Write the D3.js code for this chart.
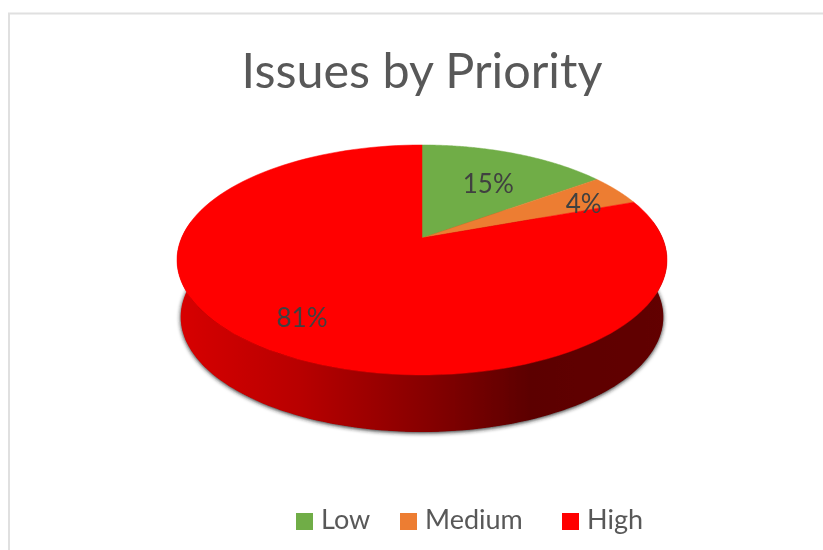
<!DOCTYPE html>
<html lang="en">
<head>
<meta charset="UTF-8">
<title>Issues by Priority</title>
<script src="https://cdnjs.cloudflare.com/ajax/libs/d3/7.8.5/d3.min.js"></script>
<style>
  html, body { margin: 0; padding: 0; background: #fff; }
  svg { display: block; }
  text { font-family: Lato, "Open Sans", sans-serif; }
</style>
</head>
<body>
<div id="viz"></div>
<script>
// data
const categories = ["Low", "Medium", "High"];
const values = [15, 4.4, 80.6];
const labels = ["15%", "4%", "81%"];
const colors = ["#70ad47", "#ed7d31", "#ff0000"];

const w = 823, h = 550;
const svg = d3.select("#viz").append("svg").attr("width", w).attr("height", h);

const defs = svg.append("defs");
// the reference is a slightly soft screenshot
defs.append("filter").attr("id", "soft")
   .attr("filterUnits", "userSpaceOnUse")
   .attr("x", 0).attr("y", 0).attr("width", w).attr("height", h)
   .append("feGaussianBlur").attr("stdDeviation", 0.55);
defs.append("filter").attr("id", "shadow")
   .attr("x", "-5%").attr("y", "-5%").attr("width", "110%").attr("height", "110%")
   .append("feGaussianBlur").attr("stdDeviation", 2);

const root = svg.append("g").attr("filter", "url(#soft)");

// chart frame
root.append("path")
   .attr("d", "M9,550V13.5H823")
   .attr("fill", "none")
   .attr("stroke", "#e0e0e0")
   .attr("stroke-width", 2);

// title
root.append("text")
   .attr("x", 422).attr("y", 88)
   .attr("text-anchor", "middle")
   .attr("font-size", 48.5)
   .attr("fill", "#595959")
   .text("Issues by Priority");

// the pie is a flat disc seen in perspective, so angles go through this
const cx = 422, cy = 238, k = -0.191, a = 110.8, b = 240.5, depth = 57;
function project(angle) {
  const u = Math.sin(angle), v = -Math.cos(angle), d = 1 + k * v;
  return [cx + b * u / d, cy + a * v / d];
}
function projectBottom(angle) {
  const p = project(angle);
  return [cx + (p[0] - cx) * 0.985, p[1] + depth];
}
function samples(a0, a1) {
  return d3.range(0, 121).map(i => a0 + (a1 - a0) * i / 120);
}
const line = d3.line();

const grad = defs.append("linearGradient")
   .attr("id", "wall")
   .attr("gradientUnits", "userSpaceOnUse")
   .attr("x1", 177).attr("x2", 667).attr("y1", 0).attr("y2", 0);
[[0, "#d80000"], [0.25, "#b80000"], [0.5, "#880000"], [0.72, "#5c0000"], [1, "#620000"]].forEach(s => {
  grad.append("stop").attr("offset", s[0]).attr("stop-color", s[1]);
});

const full = samples(0, 2 * Math.PI);

// shadow under the disc
root.append("path")
   .attr("d", line(full.map(projectBottom)) + "Z")
   .attr("transform", "translate(0,1)")
   .attr("fill", "#222")
   .attr("filter", "url(#shadow)");

// side wall: bottom disc plus the band up to the top rim
const wallAngles = samples(Math.PI * 0.45, Math.PI * 1.55);
root.append("path")
   .attr("d", line(wallAngles.map(project).concat(wallAngles.slice().reverse().map(projectBottom))) + "Z")
   .attr("fill", "url(#wall)");

// top face
const pie = d3.pie().sort(null)(values);
root.selectAll("path.slice")
   .data(pie)
   .enter()
   .append("path")
   .attr("class", "slice")
   .attr("d", d => line([[cx, cy]].concat(samples(d.startAngle, d.endAngle).map(project))) + "Z")
   .attr("fill", (d, i) => colors[i])
   .attr("stroke", (d, i) => colors[i])
   .attr("stroke-width", 0.5);

// data labels, pulled in from the rim by hand per slice
const labelRx = [0.71, 0.83, 0.735];
const labelRy = [0.64, 0.72, 0.745];
root.selectAll("text.label")
   .data(pie)
   .enter()
   .append("text")
   .attr("class", "label")
   .attr("text-anchor", "middle")
   .attr("font-size", 26)
   .attr("fill", "#404040")
   .attr("x", (d, i) => cx + (project((d.startAngle + d.endAngle) / 2)[0] - cx) * labelRx[i])
   .attr("y", (d, i) => cy + (project((d.startAngle + d.endAngle) / 2)[1] - cy) * labelRy[i] + 9)
   .text((d, i) => labels[i]);

// legend
const legendX = d3.scaleOrdinal().domain(categories).range([296, 400, 562]);
const legend = root.selectAll("g.legend")
   .data(categories)
   .enter()
   .append("g")
   .attr("class", "legend")
   .attr("transform", d => "translate(" + legendX(d) + ",513)");
legend.append("rect")
   .attr("width", 17).attr("height", 17)
   .attr("fill", (d, i) => colors[i]);
legend.append("text")
   .attr("x", 25).attr("y", 16)
   .attr("font-size", 27)
   .attr("fill", "#595959")
   .text(d => d);
</script>
</body>
</html>
